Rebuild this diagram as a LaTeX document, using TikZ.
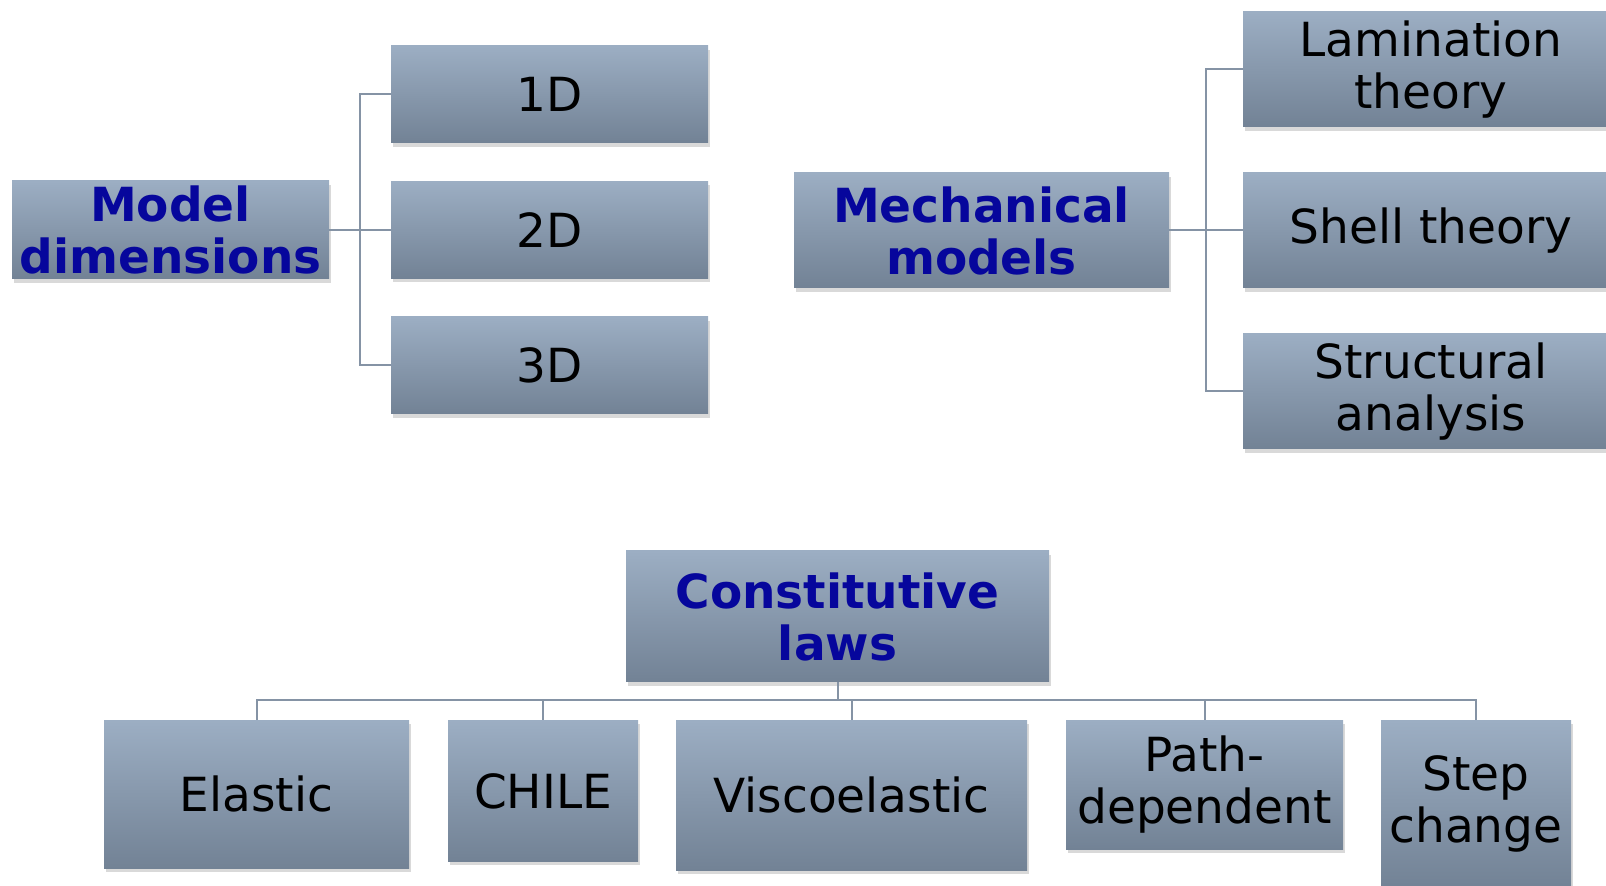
\documentclass[tikz,border=0pt]{standalone}
\usepackage{fontspec}
\setmainfont{DejaVu Sans}
\usetikzlibrary{shadows}
\definecolor{boxtop}{RGB}{156,174,195}
\definecolor{boxbot}{RGB}{114,130,149}
\definecolor{hdblue}{RGB}{6,6,156}
\definecolor{linkgray}{RGB}{133,147,165}
\begin{document}
\begin{tikzpicture}[x=0.5pt,y=-0.5pt]
        \tikzstyle{line} = [draw=linkgray, line width=1pt]
        \tikzstyle{rec} = [rectangle, top color=boxtop, bottom color=boxbot, align=center, inner sep=0pt,
        font=\fontsize{23.5}{26}\selectfont, drop shadow={opacity=0.3, shadow xshift=1pt, shadow yshift=-2pt}]
        \tikzstyle{hd} = [rec, text=hdblue, font=\fontsize{23.5}{26}\selectfont\bfseries]

        \useasboundingbox (0,0) rectangle (1606,886);

        % model dimensions
        \node(moddim) [hd, minimum width=158.5pt, minimum height=49pt] at (170.5,230) {Model\\dimensions};
        \node(oned) [rec, minimum width=158.5pt, minimum height=48.5pt] at (549.5,94.5) {1D};
        \node(twod) [rec, minimum width=158.5pt, minimum height=48.5pt, below of=oned, node distance=67.75pt] {2D};
        \node(threed) [rec, minimum width=158.5pt, minimum height=48.5pt, below of=twod, node distance=67.75pt] {3D};

        % mechanical models
        \node(mech) [hd, minimum width=187.5pt, minimum height=57.5pt] at (981.5,230.5) {Mechanical\\models};
        \node(lam) [rec, minimum width=188pt, minimum height=57.5pt] at (1431,69.5) {Lamination\\theory};
        \node(shell) [rec, minimum width=188pt, minimum height=57.5pt, below of=lam, node distance=80.5pt] {Shell theory};
        \node(struct) [rec, minimum width=188pt, minimum height=57.5pt, below of=shell, node distance=80.5pt] {Structural\\analysis};

        % constitutive laws
        \node(const) [hd, minimum width=211.5pt, minimum height=65.5pt] at (837.5,616.5) {Constitutive\\laws};
        \node(elastic) [rec, anchor=north, minimum width=152.5pt, minimum height=74pt] at (256.5,720) {Elastic};
        \node(chile) [rec, anchor=north, minimum width=95pt, minimum height=70.5pt] at (543,720) {CHILE};
        \node(visco) [rec, anchor=north, minimum width=175.5pt, minimum height=75pt] at (851.5,720) {Viscoelastic};
        \node(pathdep) [rec, anchor=north, minimum width=138.5pt, minimum height=64.5pt] at (1204.5,720) {Path-\\dependent};
        \node(stepch) [rec, anchor=north, minimum width=95pt, minimum height=84pt] at (1476,720) {Step\\change};

        \draw[line] (moddim.east) -- +(31,0) |- (oned.west);
        \draw[line] (moddim.east) -- (twod.west);
        \draw[line] (moddim.east) -- +(31,0) |- (threed.west);

        \draw[line] (mech.east) -- +(37,0) |- (lam.west);
        \draw[line] (mech.east) -- (shell.west);
        \draw[line] (mech.east) -- +(37,0) |- (struct.west);

        \draw[line] (const.south) -- +(0,18) -| (elastic.north);
        \draw[line] (const.south) -- +(0,18) -| (chile.north);
        \draw[line] (const.south) -- +(0,18) -| (visco.north);
        \draw[line] (const.south) -- +(0,18) -| (pathdep.north);
        \draw[line] (const.south) -- +(0,18) -| (stepch.north);
    \end{tikzpicture}
\end{document}
